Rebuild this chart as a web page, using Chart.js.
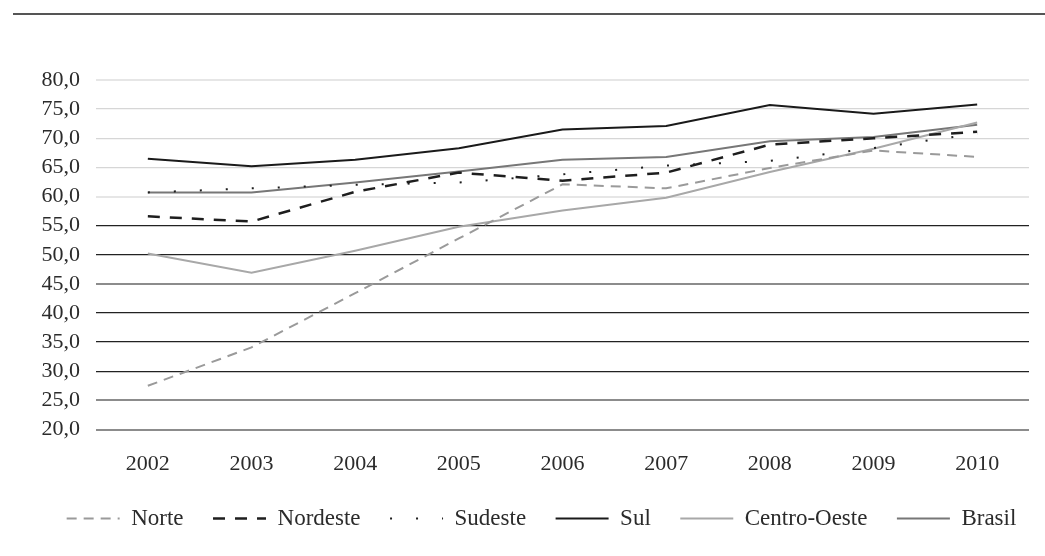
<!DOCTYPE html>
<html>
<head>
<meta charset="utf-8">
<script src="https://cdn.jsdelivr.net/npm/chart.js@4.4.1/dist/chart.umd.min.js"></script>
<style>
  html, body { margin: 0; padding: 0; background: #fff; }
  .wrap { position: relative; width: 1045px; height: 556px; }
  .rule { position: absolute; left: 13px; right: 0; top: 13px; height: 2px; background: #555; }
  canvas { position: absolute; left: 0; top: 0; }
</style>
</head>
<body>
<div class="wrap">
  <div class="rule"></div>
  <canvas id="myChart" width="1045" height="556"></canvas>
</div>
<script>
const years = ["2002","2003","2004","2005","2006","2007","2008","2009","2010"];
const norte = [27.5, 34.1, 43.4, 52.8, 62.1, 61.4, 64.9, 67.9, 66.8];
const nordeste = [56.6, 55.7, 60.8, 64.1, 62.7, 64.1, 68.9, 70.0, 71.1];
const sudeste = [60.7, 61.4, 62.0, 62.4, 63.8, 65.3, 66.1, 68.3, 70.8];
const sul = [66.5, 65.2, 66.3, 68.3, 71.5, 72.1, 75.7, 74.2, 75.8];
const centroOeste = [50.2, 46.9, 50.7, 54.8, 57.6, 59.8, 64.2, 68.2, 72.7];
const brasil = [60.7, 60.7, 62.4, 64.3, 66.3, 66.8, 69.5, 70.2, 72.3];

const ctx = document.getElementById("myChart");
const serif = "'Liberation Serif', 'Times New Roman', serif";

// gridline look per value
function gridColor(v){
  if (v >= 60) return (v === 80 || v === 60) ? "#e6e6e6" : "#d6d6d6";
  if (v === 45 || v === 25 || v === 20) return "#8c8c8c";
  return "#222";
}
function gridWidth(v){
  if (v === 80 || v === 60 || v === 45 || v === 25 || v === 20) return 2;
  return 1.3;
}

// legend sits a bit right of centre in the original
const shiftLegend = {
  id: "shiftLegend",
  afterLayout(chart){
    chart.legend.left += 17;
    chart.legend.right += 17;
  }
};

let chart = new Chart(ctx, {
  type: "line",
  data: {
    labels: years,
    datasets: [
      { label: "Norte", data: norte, borderColor: "#9a9a9a", borderWidth: 2, borderDash: [10, 7] },
      { label: "Nordeste", data: nordeste, borderColor: "#1e1e1e", borderWidth: 2.5, borderDash: [12, 10] },
      { label: "Sudeste", data: sudeste, borderColor: "#1e1e1e", borderWidth: 2, borderDash: [2, 24] },
      { label: "Sul", data: sul, borderColor: "#1a1a1a", borderWidth: 2 },
      { label: "Centro-Oeste", data: centroOeste, borderColor: "#a8a8a8", borderWidth: 2 },
      { label: "Brasil", data: brasil, borderColor: "#777", borderWidth: 2 }
    ]
  },
  plugins: [shiftLegend],
  options: {
    responsive: false,
    animation: false,
    elements: { point: { radius: 0 }, line: { tension: 0, fill: false } },
    layout: { padding: { left: 20, right: 16, top: 80, bottom: 16 } },
    plugins: {
      tooltip: { enabled: false },
      legend: {
        position: "bottom",
        labels: {
          usePointStyle: true,
          pointStyle: "line",
          pointStyleWidth: 53,
          padding: 29.5,
          color: "#2b2b2b",
          font: { family: serif, size: 23 },
          // point style drops the dash, so put it back from the dataset
          generateLabels: (c) => Chart.defaults.plugins.legend.labels.generateLabels(c).map((item) => {
            const ds = c.data.datasets[item.datasetIndex];
            item.lineDash = ds.borderDash || [];
            item.strokeStyle = ds.borderColor;
            item.lineWidth = ds.borderWidth;
            return item;
          })
        }
      }
    },
    scales: {
      x: {
        offset: true,
        grid: { display: false },
        border: { display: false },
        ticks: { color: "#2b2b2b", padding: 14, font: { family: serif, size: 22 } },
        afterFit: (scale) => { scale.height = 48; }
      },
      y: {
        min: 20,
        max: 80,
        border: { display: false },
        grid: {
          drawTicks: false,
          color: (c) => gridColor(c.tick.value),
          lineWidth: (c) => gridWidth(c.tick.value)
        },
        ticks: {
          stepSize: 5,
          autoSkip: false,
          padding: 16,
          color: "#2b2b2b",
          font: { family: serif, size: 22 },
          callback: (v) => v.toFixed(1).replace(".", ",")
        },
        afterFit: (scale) => { scale.width = 76; }
      }
    }
  }
});
</script>
</body>
</html>
